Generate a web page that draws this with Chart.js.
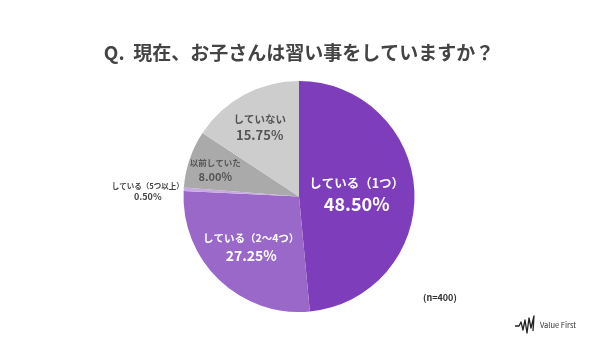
<!DOCTYPE html>
<html>
<head>
<meta charset="utf-8">
<script src="https://cdn.jsdelivr.net/npm/chart.js@4/dist/chart.umd.min.js"></script>
<style>
html,body{margin:0;padding:0;background:#fff;}
#wrap{width:600px;height:356px;position:relative;}
</style>
</head>
<body>
<div id="wrap"><canvas id="c" width="600" height="356"></canvas></div>
<script>
const titleText = 'Q.  現在、お子さんは習い事をしていますか？';
const categories = ['している（1つ）', 'している（2〜4つ）', 'している（5つ以上）', '以前していた', 'していない'];
const values = [48.50, 27.25, 0.50, 8.00, 15.75];
const sliceColors = ['#7e3ebc', '#9a68c8', '#c9a9e3', '#aaaaaa', '#cdcdcd'];
const sampleNote = '(n=400)';
const brandName = 'Value First';

const FONT = "'Noto Sans CJK JP', 'Noto Sans', sans-serif";

// label styling per slice: radius fraction, name size, pct size, line gap, colour
const labelStyle = [
  {r: 0.50, nameSize: 12.5, pctSize: 18, gap: 20.5, color: '#ffffff'},
  {r: 0.60, nameSize: 10.5, pctSize: 14, gap: 18,   color: '#ffffff'},
  {r: 1.31, nameSize: 7.5,  pctSize: 9,  gap: 10.5, color: '#444444', dAngle: -1.5},
  {r: 0.76, nameSize: 8.5,  pctSize: 11, gap: 14,   color: '#555555', dAngle: -1.4},
  {r: 0.69, nameSize: 10.5, pctSize: 13, gap: 16,   color: '#555555', dAngle: -1.2}
];

const labelPlugin = {
  id: 'sliceLabels',
  afterDatasetsDraw(chart) {
    const ctx = chart.ctx;
    const meta = chart.getDatasetMeta(0);
    meta.data.forEach((arc, i) => {
      const p = arc.getProps(['x', 'y', 'startAngle', 'endAngle', 'outerRadius'], true);
      const st = labelStyle[i];
      const mid = (p.startAngle + p.endAngle) / 2 + (st.dAngle || 0) * Math.PI / 180;
      const rr = st.r * p.outerRadius;
      const cx = p.x + Math.cos(mid) * rr;
      const cy = p.y + Math.sin(mid) * rr;
      ctx.save();
      ctx.fillStyle = st.color;
      ctx.textAlign = 'center';
      ctx.textBaseline = 'middle';
      ctx.font = 'bold ' + st.nameSize + 'px ' + FONT;
      ctx.fillText(categories[i], cx, cy - st.gap / 2);
      ctx.font = 'bold ' + st.pctSize + 'px ' + FONT;
      ctx.fillText(values[i].toFixed(2) + '%', cx, cy + st.gap / 2);
      ctx.restore();
    });
  },
  afterDraw(chart) {
    const ctx = chart.ctx;
    ctx.save();
    ctx.fillStyle = '#333';
    ctx.textAlign = 'left';
    ctx.textBaseline = 'middle';
    ctx.font = 'bold 9px ' + FONT;
    ctx.fillText(sampleNote, 423, 298);
    // brand mark
    ctx.strokeStyle = '#222';
    ctx.lineWidth = 1.3;
    ctx.lineJoin = 'round';
    ctx.beginPath();
    const pts = [[515,326],[519,326],[521,322],[523,330],[525,320],[527,333],[529,318],[531,328],[534,316],[533,331]];
    pts.forEach((pt, k) => k ? ctx.lineTo(pt[0], pt[1]) : ctx.moveTo(pt[0], pt[1]));
    ctx.stroke();
    ctx.fillStyle = '#333';
    ctx.font = '7.5px ' + FONT;
    ctx.fillText(brandName, 540, 325);
    ctx.restore();
  }
};

new Chart(document.getElementById('c'), {
  type: 'pie',
  data: {
    labels: categories,
    datasets: [{
      data: values,
      backgroundColor: sliceColors,
      borderWidth: 0
    }]
  },
  options: {
    responsive: false,
    animation: false,
    rotation: 0,
    layout: {padding: {top: 41, bottom: 44, left: 0, right: 2}},
    plugins: {
      legend: {display: false},
      tooltip: {enabled: false},
      title: {
        display: true,
        text: titleText,
        color: '#444444',
        font: {family: FONT, size: 19, weight: 'bold', lineHeight: 1.2},
        padding: {top: 0, bottom: 17.2}
      }
    }
  },
  plugins: [labelPlugin]
});
</script>
</body>
</html>
